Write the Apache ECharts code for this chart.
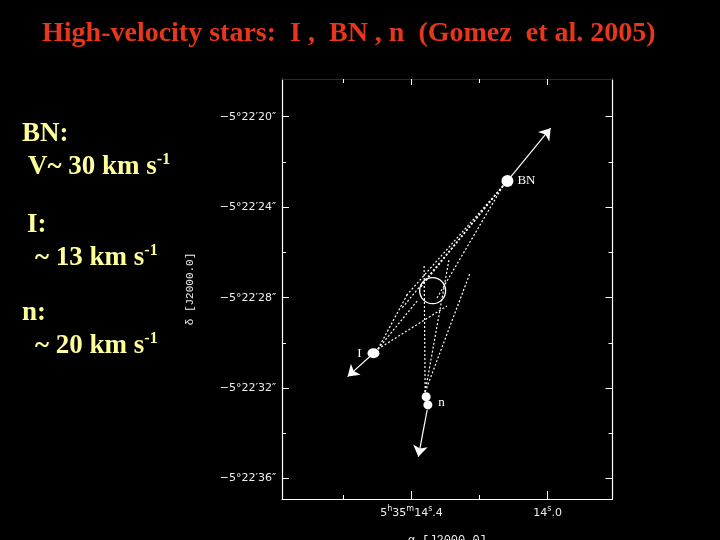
<!DOCTYPE html>
<html>
<head>
<meta charset="utf-8">
<script src="https://cdn.jsdelivr.net/npm/echarts@6/dist/echarts.min.js"></script>
<style>
html,body{margin:0;padding:0;background:#000;}
#c{width:720px;height:540px;}
</style>
</head>
<body>
<div id="c"></div>
<script>
// ---- data (RA seconds past 5h35m, Dec arcsec past -5°22') ----
const raRange = [13.809, 14.781];
const decRange = [18.334, 36.90];
const raMajorTicks = [14.4, 14.0];
const raMinorTicks = [14.6, 14.2];
const decMajorTicks = [20, 24, 28, 32, 36];
const decMinorTicks = [22, 26, 30, 34];

const starBN = [14.118, 22.84];
const starI = [14.512, 30.46];
const starN = [[14.357, 32.38], [14.352, 32.74]];
const originCircle = [14.338, 27.69];

const tipBN = [13.991, 20.51];
const tipI = [14.588, 31.49];
const startN = [14.354, 32.96];
const tipN = [14.380, 35.03];

const coneBNStart = [14.131, 23.06];
const coneBNEnds = [[14.419, 27.97], [14.375, 27.57], [14.325, 28.01], [14.428, 28.46]];
const coneIStart = [14.499, 30.27];
const coneIEnds = [[14.381, 28.10], [14.296, 28.37], [14.410, 27.79]];
const coneNStart = [14.360, 32.17];
const coneNEnds = [[14.363, 26.60], [14.290, 26.33], [14.228, 26.91]];

// ---- chart ----
const chart = echarts.init(document.getElementById('c'));
const W = '#ffffff';
const labFont = 'DejaVu Sans';

function xAx(pos, ticks, len, opts) {
  return Object.assign({
    type: 'value', position: pos, min: raRange[0], max: raRange[1], inverse: true,
    splitLine: {show: false},
    axisLine: {show: false},
    axisTick: {show: true, inside: true, length: len, customValues: ticks, lineStyle: {color: W, width: 1}},
    axisLabel: {show: false}
  }, opts || {});
}
function yAx(pos, ticks, len, opts) {
  return Object.assign({
    type: 'value', position: pos, min: decRange[0], max: decRange[1], inverse: true,
    splitLine: {show: false},
    axisLine: {show: false},
    axisTick: {show: true, inside: true, length: len, customValues: ticks, lineStyle: {color: W, width: 1}},
    axisLabel: {show: false}
  }, opts || {});
}

const coneData = [];
coneBNEnds.forEach(e => coneData.push({coords: [coneBNStart, e]}));
coneIEnds.forEach(e => coneData.push({coords: [coneIStart, e]}));
coneNEnds.forEach(e => coneData.push({coords: [coneNStart, e]}));

const supRich = {
  a: {fill: '#FFFF99', font: 'bold 27px "Liberation Serif"', lineHeight: 30},
  b: {fill: '#FFFF99', font: 'bold 16px "Liberation Serif"', verticalAlign: 'top', lineHeight: 30}
};

const option = {
  backgroundColor: '#000',
  animation: false,
  grid: {left: 282, right: 107.5, top: 79, bottom: 41, containLabel: false, outerBoundsMode: 'none'},
  xAxis: [
    xAx('bottom', raMajorTicks, 8, {
      axisLine: {show: true, lineStyle: {color: W, width: 1.2}},
      axisLabel: {
        show: true, customValues: raMajorTicks, margin: 6, color: '#eee',
        fontFamily: labFont, fontSize: 11,
        formatter: function (v) {
          if (Math.abs(v - 14.4) < 1e-6) return '{n|5}{s|h}{n|35}{s|m}{n|14}{s|s}{n|.4}';
          return '{n|14}{s|s}{n|.0}';
        },
        rich: {
          n: {fontFamily: labFont, fontSize: 11, color: '#eee', lineHeight: 16},
          s: {fontFamily: labFont, fontSize: 8, color: '#eee', verticalAlign: 'top', lineHeight: 16}
        }
      },
      name: 'α [J2000.0]', nameLocation: 'middle', nameGap: 36,
      nameTextStyle: {color: '#eee', fontFamily: 'Liberation Mono', fontSize: 12}
    }),
    xAx('bottom', raMinorTicks, 4),
    xAx('top', raMajorTicks, 6, {axisLine: {show: true, lineStyle: {color: '#2a2a2a', width: 1}}}),
    xAx('top', raMinorTicks, 4)
  ],
  yAxis: [
    yAx('left', decMajorTicks, 7, {
      axisLine: {show: true, lineStyle: {color: W, width: 1.2}},
      axisLabel: {
        show: true, customValues: decMajorTicks, margin: 6, color: '#eee',
        fontFamily: labFont, fontSize: 11,
        formatter: function (v) { return '\u22125°22\u2032' + Math.round(v) + '\u2033'; }
      },
      name: 'δ [J2000.0]', nameLocation: 'middle', nameGap: 86, nameRotate: 90,
      nameTextStyle: {color: '#eee', fontFamily: 'Liberation Mono', fontSize: 11}
    }),
    yAx('left', decMinorTicks, 4),
    yAx('right', decMajorTicks, 7, {axisLine: {show: true, lineStyle: {color: W, width: 1.2}}}),
    yAx('right', decMinorTicks, 4)
  ],
  graphic: [
    {type: 'text', x: 42, y: 34, style: {text: 'High-velocity stars:  I ,  BN , n  (Gomez  et al. 2005)',
      fill: '#E8361C', font: 'bold 28px "Liberation Serif"', verticalAlign: 'middle'}},
    {type: 'text', x: 22, y: 134, style: {text: 'BN:', fill: '#FFFF99', font: 'bold 27px "Liberation Serif"', verticalAlign: 'middle'}},
    {type: 'text', x: 28, y: 167, style: {text: '{a|V~ 30 km s}{b|-1}', verticalAlign: 'middle', rich: supRich}},
    {type: 'text', x: 27, y: 225, style: {text: 'I:', fill: '#FFFF99', font: 'bold 27px "Liberation Serif"', verticalAlign: 'middle'}},
    {type: 'text', x: 35, y: 258, style: {text: '{a|~ 13 km s}{b|-1}', verticalAlign: 'middle', rich: supRich}},
    {type: 'text', x: 22, y: 313, style: {text: 'n:', fill: '#FFFF99', font: 'bold 27px "Liberation Serif"', verticalAlign: 'middle'}},
    {type: 'text', x: 35, y: 346, style: {text: '{a|~ 20 km s}{b|-1}', verticalAlign: 'middle', rich: supRich}}
  ],
  series: [
    {
      type: 'lines', coordinateSystem: 'cartesian2d', xAxisIndex: 0, yAxisIndex: 0,
      symbol: 'none', silent: true, z: 2,
      lineStyle: {color: W, width: 1.2, type: [2, 2], opacity: 1},
      data: coneData
    },
    {
      type: 'lines', coordinateSystem: 'cartesian2d', xAxisIndex: 0, yAxisIndex: 0,
      symbol: ['none', 'arrow'], symbolSize: 11, silent: true, z: 3,
      lineStyle: {color: W, width: 1.2, opacity: 1},
      data: [
        {coords: [starBN, tipBN]},
        {coords: [starI, tipI]},
        {coords: [startN, tipN]}
      ]
    },
    {
      type: 'scatter', xAxisIndex: 0, yAxisIndex: 0, z: 4, silent: true,
      symbol: 'circle', symbolSize: 26,
      itemStyle: {color: 'rgba(0,0,0,0)', borderColor: W, borderWidth: 1.3, opacity: 1},
      data: [originCircle]
    },
    {
      type: 'scatter', xAxisIndex: 0, yAxisIndex: 0, z: 5, silent: true,
      symbol: 'circle', symbolSize: 12, itemStyle: {color: W, opacity: 1},
      label: {show: true, position: 'right', distance: 4, formatter: 'BN', color: W,
        fontFamily: 'Liberation Serif', fontSize: 13},
      data: [starBN]
    },
    {
      type: 'scatter', xAxisIndex: 0, yAxisIndex: 0, z: 5, silent: true,
      symbol: 'circle', symbolSize: [12, 10], itemStyle: {color: W, opacity: 1},
      label: {show: true, position: 'left', distance: 6, formatter: 'I', color: W,
        fontFamily: 'Liberation Serif', fontSize: 13},
      data: [starI]
    },
    {
      type: 'scatter', xAxisIndex: 0, yAxisIndex: 0, z: 5, silent: true,
      symbol: 'circle', symbolSize: 9, itemStyle: {color: W, opacity: 1},
      data: [
        {value: starN[0]},
        {value: starN[1], label: {show: true, position: 'right', distance: 6, offset: [0, -2], formatter: 'n',
          color: W, fontFamily: 'Liberation Serif', fontSize: 13}}
      ]
    }
  ]
};
chart.setOption(option);
</script>
</body>
</html>
